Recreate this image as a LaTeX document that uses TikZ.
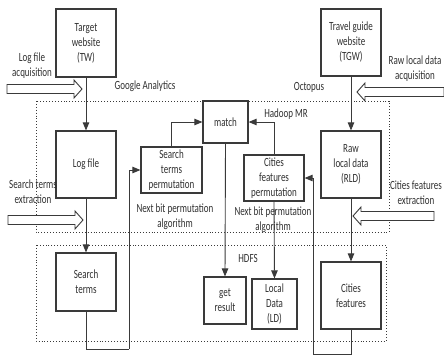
\documentclass[tikz,border=0pt]{standalone}
\usepackage{fontspec}
\setmainfont[FakeStretch=0.72]{Carlito}
\usetikzlibrary{arrows.meta}
\definecolor{ln}{HTML}{3A3A3A}
\definecolor{tx}{HTML}{303030}
\tikzset{
  box/.style={draw=ln, line width=1.2pt, align=center, inner sep=1pt, text=tx, font=\fontsize{12.5}{15}\selectfont},
  conn/.style={draw=ln, line width=0.9pt, -{Triangle[length=8pt,width=6.5pt]}},
  plain/.style={draw=ln, line width=0.9pt},
  lbl/.style={align=center, text=tx, inner sep=0pt, font=\fontsize{12.5}{15}\selectfont},
  zone/.style={draw=ln, line width=0.9pt, dotted},
  hol/.style={draw=ln, line width=0.9pt, fill=white}
}
\newcommand\hollowR[3]{\draw[hol] (#1,#3-4.5) -- (#2-8,#3-4.5) -- (#2-8,#3-9) -- (#2,#3) -- (#2-8,#3+9) -- (#2-8,#3+4.5) -- (#1,#3+4.5) -- cycle;}
\newcommand\hollowL[3]{\draw[hol] (#1,#3-4.5) -- (#2+8,#3-4.5) -- (#2+8,#3-9) -- (#2,#3) -- (#2+8,#3+9) -- (#2+8,#3+4.5) -- (#1,#3+4.5) -- cycle;}
\begin{document}
\begin{tikzpicture}[x=1pt,y=-1pt]
\useasboundingbox (0,0) rectangle (444,357);
% zones
\draw[zone] (36,101) rectangle (389,232);
\draw[zone] (36,245) rectangle (386,341);
% boxes
\node[box, minimum width=60pt, minimum height=68pt] (tw) at (86,43) {Target\\website\\(TW)};
\node[box, minimum width=60pt, minimum height=67pt] (tgw) at (351,42.5) {Travel guide\\website\\(TGW)};
\node[box, minimum width=60pt, minimum height=67pt] (lf) at (86,164.5) {Log file};
\node[box, minimum width=60pt, minimum height=58pt] (st) at (86,282) {Search\\terms};
\node[box, minimum width=60pt, minimum height=67pt] (rld) at (351,164.5) {Raw\\local data\\(RLD)};
\node[box, minimum width=60pt, minimum height=67pt] (cf) at (351,295.5) {Cities\\features};
\node[box, minimum width=45pt, minimum height=42pt] (match) at (225.5,122) {match};
\node[box, minimum width=61pt, minimum height=46pt] (stp) at (171.5,170) {Search\\terms\\permutation};
\node[box, minimum width=60pt, minimum height=46pt] (cfp) at (274,178) {Cities\\features\\permutation};
\node[box, minimum width=42pt, minimum height=47pt] (gr) at (225,300.5) {get\\result};
\node[box, minimum width=45pt, minimum height=50pt] (ld) at (274.5,304) {Local\\Data\\(LD)};
% connectors
\draw[conn] (tw) -- (lf);
\draw[conn] (lf) -- (st);
\draw[conn] (tgw) -- (rld);
\draw[conn] (rld) -- (cf);
\draw[conn] (stp.north) |- (match.west);
\draw[conn] (cfp.north) |- (match.east);
\draw[conn] (match.south) -- (gr.north);
\draw[conn] (cfp.south) -- (ld.north);
\coordinate (c1) at (129,349);
\coordinate (c2) at (313,354);
\draw[plain] (st.south) |- (c1);
\draw[conn] (c1) |- (stp.west);
\draw[plain] (cf.south) |- (c2);
\draw[conn] (c2) |- (cfp.east);
% hollow arrows
\hollowR{7}{82}{89}
\hollowR{8}{83}{220}
\hollowL{444}{357}{92}
\hollowL{434}{353}{216}
% labels
\node[lbl] (l1) at (32,66) {Log file\\acquisition};
\node[lbl] (l2) at (145,86) {Google Analytics};
\node[lbl] (l3) at (309,87) {Octopus};
\node[lbl] (l4) at (415,69) {Raw local data\\acquisition};
\node[lbl] (l5) at (286,114) {Hadoop MR};
\node[lbl] (l6) at (33,192) {Search terms\\extraction};
\node[lbl] (l7) at (175,217) {Next bit permutation\\algorithm};
\node[lbl] (l8) at (273,220) {Next bit permutation\\algorithm};
\node[lbl] (l9) at (416,193) {Cities features\\extraction};
\node[lbl] (l10) at (248,258) {HDFS};
\end{tikzpicture}
\end{document}
